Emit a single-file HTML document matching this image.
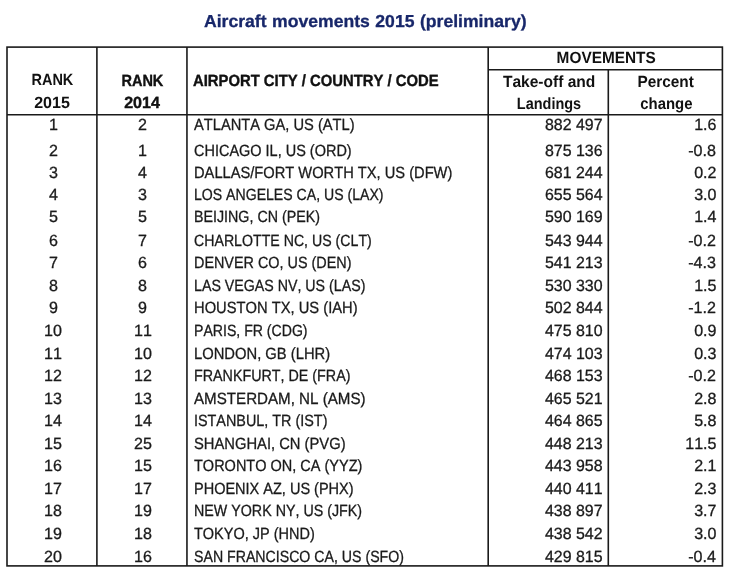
<!DOCTYPE html>
<html lang="en"><head><meta charset="utf-8"><title>Aircraft movements 2015 (preliminary)</title>
<style>
html,body{margin:0;padding:0;background:#fff;font-kerning:none;text-rendering:geometricPrecision;}
body{width:729px;height:573px;position:relative;overflow:hidden;font-family:"Liberation Sans",sans-serif;}
.t{position:absolute;white-space:pre;font-size:16.2px;line-height:20px;height:20px;color:#1a1a1a;display:block;-webkit-text-stroke:0.3px #1a1a1a;}
.b{font-weight:bold;color:#111;-webkit-text-stroke:0.4px #111;}
.l{-webkit-text-stroke:0;}
h1{position:absolute;margin:0;left:203.6px;top:11px;font-family:"Liberation Sans",sans-serif;font-weight:bold;font-size:17.3px;line-height:20px;color:#18276a;white-space:pre;transform-origin:0 0;transform:scaleX(1.018);word-spacing:0.6px;-webkit-text-stroke:0.3px #18276a;}
</style></head><body>
<h1>Aircraft movements 2015 (preliminary)</h1>
<svg width="729" height="573" viewBox="0 0 729 573" style="position:absolute;left:0;top:0" fill="none" stroke="#1a1a1a" stroke-width="1.6">
<rect x="7" y="47.1" width="715.4" height="518.8"/>
<path d="M96.9 47.1V565.9M186.95 47.1V565.9M488.2 47.1V565.9M608.3 69.8V565.9M488.2 69.8H722.4M7 114.7H722.4"/>
</svg>
<span class="t b l" style="left:28.60px;top:70px;transform:scaleX(0.8956);transform-origin:50% 0;">RANK</span>
<span class="t b l" style="left:33.98px;top:93px;transform:scaleX(0.9929);transform-origin:50% 0;">2015</span>
<span class="t b" style="left:118.90px;top:71px;transform:scaleX(0.8956);transform-origin:50% 0;">RANK</span>
<span class="t b" style="left:124.28px;top:93px;transform:scaleX(0.9929);transform-origin:50% 0;">2014</span>
<span class="t b" style="left:193.20px;top:71px;transform:scaleX(0.9161);transform-origin:0 0;">AIRPORT CITY / COUNTRY / CODE</span>
<span class="t b l" style="left:554.00px;top:48px;transform:scaleX(0.9497);transform-origin:50% 0;">MOVEMENTS</span>
<span class="t b l" style="left:501.05px;top:72px;transform:scaleX(0.9606);transform-origin:50% 0;">Take-off and</span>
<span class="t b l" style="left:513.00px;top:94px;transform:scaleX(0.8936);transform-origin:50% 0;">Landings</span>
<span class="t b l" style="left:636.29px;top:72px;transform:scaleX(0.9493);transform-origin:50% 0;">Percent</span>
<span class="t b l" style="left:637.64px;top:94px;transform:scaleX(0.9221);transform-origin:50% 0;">change</span>
<span class="t" style="left:48.50px;top:115px;transform:scaleX(0.9929);transform-origin:50% 0;">1</span>
<span class="t" style="left:138.40px;top:115px;transform:scaleX(0.9929);transform-origin:50% 0;">2</span>
<span class="t" style="left:193.60px;top:115px;transform:scaleX(0.9065);transform-origin:0 0;">ATLANTA GA, US (ATL)</span>
<span class="t" style="left:543.64px;top:115px;transform:scaleX(0.9847);transform-origin:100% 0;">882 497</span>
<span class="t" style="left:693.68px;top:115px;transform:scaleX(0.9923);transform-origin:100% 0;">1.6</span>
<span class="t" style="left:48.50px;top:141px;transform:scaleX(0.9929);transform-origin:50% 0;">2</span>
<span class="t" style="left:138.40px;top:141px;transform:scaleX(0.9929);transform-origin:50% 0;">1</span>
<span class="t" style="left:193.60px;top:141px;transform:scaleX(0.8945);transform-origin:0 0;">CHICAGO IL, US (ORD)</span>
<span class="t" style="left:543.64px;top:141px;transform:scaleX(0.9847);transform-origin:100% 0;">875 136</span>
<span class="t" style="left:688.28px;top:141px;transform:scaleX(0.9941);transform-origin:100% 0;">-0.8</span>
<span class="t" style="left:48.50px;top:163px;transform:scaleX(0.9929);transform-origin:50% 0;">3</span>
<span class="t" style="left:138.40px;top:163px;transform:scaleX(0.9929);transform-origin:50% 0;">4</span>
<span class="t" style="left:193.60px;top:163px;transform:scaleX(0.9062);transform-origin:0 0;">DALLAS/FORT WORTH TX, US (DFW)</span>
<span class="t" style="left:543.64px;top:163px;transform:scaleX(0.9847);transform-origin:100% 0;">681 244</span>
<span class="t" style="left:693.68px;top:163px;transform:scaleX(0.9923);transform-origin:100% 0;">0.2</span>
<span class="t" style="left:48.50px;top:185px;transform:scaleX(0.9929);transform-origin:50% 0;">4</span>
<span class="t" style="left:138.40px;top:185px;transform:scaleX(0.9929);transform-origin:50% 0;">3</span>
<span class="t" style="left:193.60px;top:185px;transform:scaleX(0.8704);transform-origin:0 0;">LOS ANGELES CA, US (LAX)</span>
<span class="t" style="left:543.64px;top:185px;transform:scaleX(0.9847);transform-origin:100% 0;">655 564</span>
<span class="t" style="left:693.68px;top:185px;transform:scaleX(0.9923);transform-origin:100% 0;">3.0</span>
<span class="t" style="left:48.50px;top:207px;transform:scaleX(0.9929);transform-origin:50% 0;">5</span>
<span class="t" style="left:138.40px;top:207px;transform:scaleX(0.9929);transform-origin:50% 0;">5</span>
<span class="t" style="left:193.60px;top:207px;transform:scaleX(0.8809);transform-origin:0 0;">BEIJING, CN (PEK)</span>
<span class="t" style="left:543.64px;top:207px;transform:scaleX(0.9847);transform-origin:100% 0;">590 169</span>
<span class="t" style="left:693.68px;top:207px;transform:scaleX(0.9923);transform-origin:100% 0;">1.4</span>
<span class="t" style="left:48.50px;top:231px;transform:scaleX(0.9929);transform-origin:50% 0;">6</span>
<span class="t" style="left:138.40px;top:231px;transform:scaleX(0.9929);transform-origin:50% 0;">7</span>
<span class="t" style="left:193.60px;top:231px;transform:scaleX(0.8745);transform-origin:0 0;">CHARLOTTE NC, US (CLT)</span>
<span class="t" style="left:543.64px;top:231px;transform:scaleX(0.9847);transform-origin:100% 0;">543 944</span>
<span class="t" style="left:688.28px;top:231px;transform:scaleX(0.9941);transform-origin:100% 0;">-0.2</span>
<span class="t" style="left:48.50px;top:253px;transform:scaleX(0.9929);transform-origin:50% 0;">7</span>
<span class="t" style="left:138.40px;top:253px;transform:scaleX(0.9929);transform-origin:50% 0;">6</span>
<span class="t" style="left:193.60px;top:253px;transform:scaleX(0.8886);transform-origin:0 0;">DENVER CO, US (DEN)</span>
<span class="t" style="left:543.64px;top:253px;transform:scaleX(0.9847);transform-origin:100% 0;">541 213</span>
<span class="t" style="left:688.28px;top:253px;transform:scaleX(0.9941);transform-origin:100% 0;">-4.3</span>
<span class="t" style="left:48.50px;top:276px;transform:scaleX(0.9929);transform-origin:50% 0;">8</span>
<span class="t" style="left:138.40px;top:276px;transform:scaleX(0.9929);transform-origin:50% 0;">8</span>
<span class="t" style="left:193.60px;top:276px;transform:scaleX(0.8778);transform-origin:0 0;">LAS VEGAS NV, US (LAS)</span>
<span class="t" style="left:543.64px;top:276px;transform:scaleX(0.9847);transform-origin:100% 0;">530 330</span>
<span class="t" style="left:693.68px;top:276px;transform:scaleX(0.9923);transform-origin:100% 0;">1.5</span>
<span class="t" style="left:48.50px;top:298px;transform:scaleX(0.9929);transform-origin:50% 0;">9</span>
<span class="t" style="left:138.40px;top:298px;transform:scaleX(0.9929);transform-origin:50% 0;">9</span>
<span class="t" style="left:193.60px;top:298px;transform:scaleX(0.9096);transform-origin:0 0;">HOUSTON TX, US (IAH)</span>
<span class="t" style="left:543.64px;top:298px;transform:scaleX(0.9847);transform-origin:100% 0;">502 844</span>
<span class="t" style="left:688.28px;top:298px;transform:scaleX(0.9941);transform-origin:100% 0;">-1.2</span>
<span class="t" style="left:43.99px;top:321px;transform:scaleX(0.9929);transform-origin:50% 0;">10</span>
<span class="t" style="left:133.89px;top:321px;transform:scaleX(0.9929);transform-origin:50% 0;">11</span>
<span class="t" style="left:193.60px;top:321px;transform:scaleX(0.8709);transform-origin:0 0;">PARIS, FR (CDG)</span>
<span class="t" style="left:543.64px;top:321px;transform:scaleX(0.9847);transform-origin:100% 0;">475 810</span>
<span class="t" style="left:693.68px;top:321px;transform:scaleX(0.9923);transform-origin:100% 0;">0.9</span>
<span class="t" style="left:43.99px;top:344px;transform:scaleX(0.9929);transform-origin:50% 0;">11</span>
<span class="t" style="left:133.89px;top:344px;transform:scaleX(0.9929);transform-origin:50% 0;">10</span>
<span class="t" style="left:193.60px;top:344px;transform:scaleX(0.9120);transform-origin:0 0;">LONDON, GB (LHR)</span>
<span class="t" style="left:543.64px;top:344px;transform:scaleX(0.9847);transform-origin:100% 0;">474 103</span>
<span class="t" style="left:693.68px;top:344px;transform:scaleX(0.9923);transform-origin:100% 0;">0.3</span>
<span class="t" style="left:43.99px;top:366px;transform:scaleX(0.9929);transform-origin:50% 0;">12</span>
<span class="t" style="left:133.89px;top:366px;transform:scaleX(0.9929);transform-origin:50% 0;">12</span>
<span class="t" style="left:193.60px;top:366px;transform:scaleX(0.8831);transform-origin:0 0;">FRANKFURT, DE (FRA)</span>
<span class="t" style="left:543.64px;top:366px;transform:scaleX(0.9847);transform-origin:100% 0;">468 153</span>
<span class="t" style="left:688.28px;top:366px;transform:scaleX(0.9941);transform-origin:100% 0;">-0.2</span>
<span class="t" style="left:43.99px;top:389px;transform:scaleX(0.9929);transform-origin:50% 0;">13</span>
<span class="t" style="left:133.89px;top:389px;transform:scaleX(0.9929);transform-origin:50% 0;">13</span>
<span class="t" style="left:193.60px;top:389px;transform:scaleX(0.9351);transform-origin:0 0;">AMSTERDAM, NL (AMS)</span>
<span class="t" style="left:543.64px;top:389px;transform:scaleX(0.9847);transform-origin:100% 0;">465 521</span>
<span class="t" style="left:693.68px;top:389px;transform:scaleX(0.9923);transform-origin:100% 0;">2.8</span>
<span class="t" style="left:43.99px;top:411px;transform:scaleX(0.9929);transform-origin:50% 0;">14</span>
<span class="t" style="left:133.89px;top:411px;transform:scaleX(0.9929);transform-origin:50% 0;">14</span>
<span class="t" style="left:193.60px;top:411px;transform:scaleX(0.8884);transform-origin:0 0;">ISTANBUL, TR (IST)</span>
<span class="t" style="left:543.64px;top:411px;transform:scaleX(0.9847);transform-origin:100% 0;">464 865</span>
<span class="t" style="left:693.68px;top:411px;transform:scaleX(0.9923);transform-origin:100% 0;">5.8</span>
<span class="t" style="left:43.99px;top:434px;transform:scaleX(0.9929);transform-origin:50% 0;">15</span>
<span class="t" style="left:133.89px;top:434px;transform:scaleX(0.9929);transform-origin:50% 0;">25</span>
<span class="t" style="left:193.60px;top:434px;transform:scaleX(0.9108);transform-origin:0 0;">SHANGHAI, CN (PVG)</span>
<span class="t" style="left:543.64px;top:434px;transform:scaleX(0.9847);transform-origin:100% 0;">448 213</span>
<span class="t" style="left:684.67px;top:434px;transform:scaleX(0.9925);transform-origin:100% 0;">11.5</span>
<span class="t" style="left:43.99px;top:456px;transform:scaleX(0.9929);transform-origin:50% 0;">16</span>
<span class="t" style="left:133.89px;top:456px;transform:scaleX(0.9929);transform-origin:50% 0;">15</span>
<span class="t" style="left:193.60px;top:456px;transform:scaleX(0.8957);transform-origin:0 0;">TORONTO ON, CA (YYZ)</span>
<span class="t" style="left:543.64px;top:456px;transform:scaleX(0.9847);transform-origin:100% 0;">443 958</span>
<span class="t" style="left:693.68px;top:456px;transform:scaleX(0.9923);transform-origin:100% 0;">2.1</span>
<span class="t" style="left:43.99px;top:479px;transform:scaleX(0.9929);transform-origin:50% 0;">17</span>
<span class="t" style="left:133.89px;top:479px;transform:scaleX(0.9929);transform-origin:50% 0;">17</span>
<span class="t" style="left:193.60px;top:479px;transform:scaleX(0.8960);transform-origin:0 0;">PHOENIX AZ, US (PHX)</span>
<span class="t" style="left:543.64px;top:479px;transform:scaleX(0.9847);transform-origin:100% 0;">440 411</span>
<span class="t" style="left:693.68px;top:479px;transform:scaleX(0.9923);transform-origin:100% 0;">2.3</span>
<span class="t" style="left:43.99px;top:501px;transform:scaleX(0.9929);transform-origin:50% 0;">18</span>
<span class="t" style="left:133.89px;top:501px;transform:scaleX(0.9929);transform-origin:50% 0;">19</span>
<span class="t" style="left:193.60px;top:501px;transform:scaleX(0.8813);transform-origin:0 0;">NEW YORK NY, US (JFK)</span>
<span class="t" style="left:543.64px;top:501px;transform:scaleX(0.9847);transform-origin:100% 0;">438 897</span>
<span class="t" style="left:693.68px;top:501px;transform:scaleX(0.9923);transform-origin:100% 0;">3.7</span>
<span class="t" style="left:43.99px;top:524px;transform:scaleX(0.9929);transform-origin:50% 0;">19</span>
<span class="t" style="left:133.89px;top:524px;transform:scaleX(0.9929);transform-origin:50% 0;">18</span>
<span class="t" style="left:193.60px;top:524px;transform:scaleX(0.8950);transform-origin:0 0;">TOKYO, JP (HND)</span>
<span class="t" style="left:543.64px;top:524px;transform:scaleX(0.9847);transform-origin:100% 0;">438 542</span>
<span class="t" style="left:693.68px;top:524px;transform:scaleX(0.9923);transform-origin:100% 0;">3.0</span>
<span class="t" style="left:43.99px;top:547px;transform:scaleX(0.9929);transform-origin:50% 0;">20</span>
<span class="t" style="left:133.89px;top:547px;transform:scaleX(0.9929);transform-origin:50% 0;">16</span>
<span class="t" style="left:193.60px;top:547px;transform:scaleX(0.8743);transform-origin:0 0;">SAN FRANCISCO CA, US (SFO)</span>
<span class="t" style="left:543.64px;top:547px;transform:scaleX(0.9847);transform-origin:100% 0;">429 815</span>
<span class="t" style="left:688.28px;top:547px;transform:scaleX(0.9941);transform-origin:100% 0;">-0.4</span>
</body></html>
